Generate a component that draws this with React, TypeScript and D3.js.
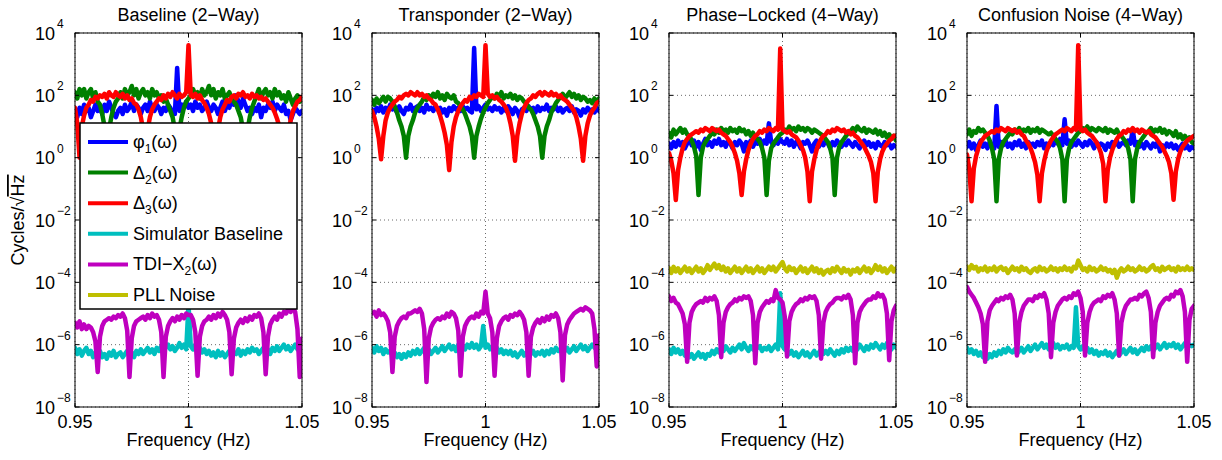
import React from 'react';
import * as d3 from 'd3';

// frequency grid, 1 mHz steps from 0.95 to 1.05 Hz
const freqs = d3.range(101).map(i => 0.95 + i / 1000);

const panelTitles = ['Baseline (2\u2212Way)', 'Transponder (2\u2212Way)', 'Phase\u2212Locked (4\u2212Way)', 'Confusion Noise (4\u2212Way)'];
const yTickExps = [4, 2, 0, -2, -4, -6, -8];
const xTicks = [0.95, 1, 1.05];
const xTickLabels = ['0.95', '1', '1.05'];

// all series are log10(Cycles/sqrt(Hz)) on the grid above
const baseBlue = [1.5,1.3,1.6,1.4,1.7,1.5,1.6,1.3,1.5,1.7,1.5,1.6,1.4,1.7,1.5,1.8,1.6,1.4,1.3,1.5,1.6,1.4,1.7,1.5,1.6,1.8,1.5,1.7,1.6,1.4,1.6,1.7,1.5,1.8,1.6,1.5,1.7,1.6,1.4,1.6,1.5,1.7,1.6,1.4,1.4,2.88,1.5,1.7,1.6,1.8,1.6,1.7,1.5,1.8,1.6,1.7,1.5,1.6,1.8,1.6,1.5,1.7,1.6,1.4,1.6,1.8,1.5,1.7,1.6,1.9,1.7,2.0,1.8,1.6,1.9,1.7,1.5,1.6,1.4,1.6,1.5,1.7,1.3,1.6,1.5,1.7,1.6,1.8,1.5,1.7,1.6,1.5,1.7,1.4,1.5,1.2,1.4,1.6,1.5,1.4,1.5];
const baseGreen = [2.1,1.9,2.2,2.0,2.2,1.9,2.1,2.2,1.9,2.1,1.8,1.7,1.4,1.0,0.0,0.9,1.3,1.6,1.8,1.9,2.1,1.9,2.2,2.0,2.1,2.3,2.0,2.2,1.9,2.1,2.2,2.0,2.1,1.9,2.2,2.0,2.1,1.9,2.0,1.8,1.9,1.7,1.5,1.3,0.9,0.0,0.9,1.3,1.6,1.8,1.9,2.0,2.2,2.0,2.1,1.9,2.2,2.0,2.1,2.3,2.0,2.2,1.9,2.1,2.0,2.2,1.9,2.0,2.1,1.9,1.8,1.7,1.5,1.3,0.9,0.0,0.9,1.3,1.6,1.8,2.0,2.2,1.9,2.1,2.2,2.0,2.1,1.9,2.2,2.0,2.1,1.9,2.0,1.8,2.1,1.9,1.7,1.9,2.0,1.8,1.9];
const baseRed = [1.6,1.1,0.0,1.0,1.35,1.6,1.7,1.85,1.8,1.95,1.9,2.0,1.95,2.05,1.9,2.1,2.0,1.95,2.1,2.0,1.95,2.05,1.9,2.0,1.85,1.9,1.75,1.7,1.55,1.3,0.9,-0.1,0.9,1.3,1.55,1.7,1.8,1.9,1.85,2.0,1.9,2.05,1.95,2.1,2.0,1.9,2.05,1.95,2.0,2.1,3.61,2.0,1.95,2.05,1.9,2.0,1.85,1.75,1.6,1.4,1.1,0.8,-0.1,0.9,1.3,1.55,1.7,1.85,1.8,1.95,2.0,1.9,2.05,2.0,2.1,1.95,2.0,1.9,2.05,1.95,2.0,1.9,1.95,1.85,1.9,1.8,1.7,1.6,1.45,1.25,1.0,0.9,0.4,-0.2,0.8,1.2,1.5,1.65,1.8,1.85,1.95];
const baseCyan = [-6.1,-6.3,-6.15,-6.35,-6.2,-6.1,-6.3,-6.2,-6.4,-6.25,-6.35,-6.2,-6.4,-6.3,-6.45,-6.25,-6.35,-6.2,-6.4,-6.3,-6.25,-6.4,-6.3,-6.2,-6.35,-6.25,-6.4,-6.2,-6.3,-6.15,-6.3,-6.2,-6.1,-6.25,-6.15,-6.3,-6.1,-6.2,-6.05,-6.2,-6.1,-6.0,-6.15,-6.05,-6.2,-6.1,-5.95,-6.1,-6.0,-6.15,-4.7,-6.05,-6.15,-6.0,-6.2,-6.1,-6.25,-6.15,-6.3,-6.2,-6.35,-6.25,-6.4,-6.2,-6.35,-6.25,-6.4,-6.3,-6.2,-6.35,-6.25,-6.3,-6.15,-6.35,-6.2,-6.3,-6.15,-6.25,-6.1,-6.2,-6.15,-6.3,-6.2,-6.1,-6.25,-6.15,-6.3,-6.1,-6.2,-6.05,-6.2,-6.1,-6.0,-6.15,-6.05,-6.2,-6.1,-6.0,-6.15,-6.05,-6.1];
const baseMagenta = [-5.3,-5.45,-5.25,-5.5,-5.35,-5.5,-5.4,-5.45,-5.6,-5.9,-6.88,-5.75,-5.4,-5.25,-5.2,-5.15,-5.2,-5.1,-5.15,-5.05,-5.1,-5.0,-5.15,-5.55,-7.04,-5.8,-5.4,-5.25,-5.2,-5.15,-5.1,-5.2,-5.05,-5.15,-5.0,-5.1,-5.05,-5.2,-5.6,-7.04,-5.75,-5.4,-5.25,-5.15,-5.25,-5.1,-5.2,-5.05,-5.15,-5.0,-5.05,-5.05,-5.2,-5.6,-7.0,-5.75,-5.4,-5.25,-5.2,-5.1,-5.2,-5.05,-5.15,-5.0,-5.1,-4.95,-5.05,-5.2,-5.6,-6.95,-5.8,-5.45,-5.3,-5.2,-5.3,-5.15,-5.25,-5.1,-5.2,-5.05,-5.1,-5.0,-5.15,-5.6,-6.95,-5.75,-5.35,-5.2,-5.1,-5.2,-5.0,-5.1,-4.95,-5.0,-4.85,-4.95,-4.8,-4.95,-5.5,-7.04,-5.8];

const transBlue = [1.55,1.4,1.6,1.5,1.65,1.45,1.6,1.5,1.7,1.55,1.6,1.45,1.65,1.5,1.4,1.6,1.55,1.7,1.5,1.6,1.65,1.5,1.6,1.45,1.7,1.55,1.6,1.5,1.65,1.55,1.6,1.45,1.55,1.35,1.6,1.5,1.65,1.55,1.6,1.5,1.65,1.55,1.6,1.5,1.45,3.52,1.55,1.65,1.5,1.6,1.7,1.55,1.6,1.5,1.65,1.55,1.6,1.45,1.6,1.5,1.65,1.55,1.4,1.6,1.5,1.3,1.55,1.6,1.5,1.65,1.55,1.6,1.45,1.65,1.5,1.6,1.55,1.7,1.5,1.6,1.55,1.65,1.5,1.6,1.45,1.55,1.6,1.5,1.65,1.45,1.55,1.5,1.35,1.55,1.45,1.6,1.5,1.55,1.45,1.6,1.5];
const transGreen = [1.85,1.7,1.9,1.75,1.85,1.95,1.8,1.95,1.9,1.8,1.65,1.45,1.2,1.0,0.7,0.0,0.7,1.0,1.2,1.45,1.6,1.7,1.8,1.95,1.85,2.0,1.9,2.05,1.95,2.1,1.9,2.0,1.85,2.05,1.95,1.9,2.0,1.8,1.75,1.65,1.55,1.4,1.2,1.0,0.7,0.0,0.7,1.0,1.25,1.45,1.6,1.75,1.85,1.95,1.9,2.05,1.95,2.1,1.9,2.0,1.95,2.05,1.9,2.0,1.85,1.95,1.9,1.8,1.75,1.6,1.55,1.4,1.2,1.0,0.7,0.0,0.7,1.0,1.2,1.45,1.6,1.75,1.85,1.95,2.05,1.9,2.0,2.1,1.95,2.05,1.9,2.0,1.85,1.95,1.9,1.8,1.85,1.75,1.9,1.8,1.9];
const transRed = [1.5,1.3,1.0,0.6,-0.05,0.7,1.2,1.45,1.6,1.7,1.8,1.85,1.95,1.9,2.0,2.05,2.0,2.1,2.05,2.0,2.1,2.0,2.05,1.95,2.0,1.9,1.85,1.75,1.7,1.55,1.35,1.1,0.8,0.4,-0.4,0.5,1.0,1.3,1.5,1.65,1.75,1.85,1.8,1.95,1.9,2.0,1.95,2.05,2.0,1.95,3.61,2.05,1.95,2.0,1.9,1.95,1.85,1.8,1.7,1.6,1.4,1.1,0.7,-0.1,0.7,1.1,1.4,1.6,1.75,1.85,1.9,2.0,1.95,2.05,2.1,2.0,2.1,2.05,2.0,2.1,2.0,2.05,1.95,2.0,1.9,1.85,1.8,1.7,1.6,1.5,1.3,1.0,0.6,-0.1,0.7,1.1,1.35,1.5,1.6,1.75,1.8];
const transCyan = [-6.1,-6.25,-6.05,-6.2,-6.1,-6.3,-6.15,-6.25,-6.2,-6.35,-6.25,-6.4,-6.3,-6.45,-6.3,-6.4,-6.25,-6.35,-6.2,-6.3,-6.15,-6.3,-6.2,-6.1,-6.25,-6.15,-6.3,-6.2,-6.1,-6.25,-6.15,-6.05,-6.2,-6.1,-6.0,-6.15,-6.05,-6.2,-6.0,-6.1,-6.05,-6.15,-6.0,-6.1,-5.95,-6.1,-6.0,-6.15,-6.05,-5.4,-6.1,-6.0,-6.15,-6.05,-6.2,-6.1,-6.25,-6.15,-6.3,-6.2,-6.3,-6.2,-6.35,-6.25,-6.4,-6.3,-6.2,-6.35,-6.25,-6.4,-6.3,-6.2,-6.35,-6.25,-6.3,-6.2,-6.35,-6.2,-6.3,-6.15,-6.25,-6.1,-6.2,-6.15,-6.3,-6.2,-6.1,-6.25,-6.15,-6.05,-6.2,-6.1,-6.0,-6.15,-6.05,-6.2,-6.1,-6.0,-6.1,-6.05,-6.15];
const transMagenta = [-5.0,-4.95,-5.1,-4.9,-5.05,-5.0,-5.1,-5.25,-5.6,-6.88,-5.75,-5.4,-5.25,-5.15,-5.1,-5.15,-5.0,-5.0,-4.95,-4.9,-4.95,-4.85,-5.0,-5.5,-7.2,-5.8,-5.45,-5.3,-5.2,-5.15,-5.2,-5.1,-5.15,-5.0,-5.1,-4.95,-5.0,-5.15,-5.55,-7.0,-5.75,-5.4,-5.25,-5.15,-5.1,-5.15,-5.0,-5.1,-4.95,-5.0,-4.3,-5.0,-5.15,-5.6,-7.0,-5.8,-5.4,-5.25,-5.15,-5.1,-5.2,-5.05,-5.1,-5.0,-5.05,-4.95,-5.05,-5.2,-5.6,-7.0,-5.75,-5.45,-5.3,-5.2,-5.3,-5.15,-5.25,-5.1,-5.2,-5.05,-5.1,-5.0,-5.15,-5.6,-7.15,-5.7,-5.35,-5.2,-5.1,-5.0,-4.95,-4.9,-4.85,-4.9,-4.8,-4.85,-4.9,-5.0,-5.5,-6.7,-5.7];

const phaseBlue = [0.45,0.3,0.5,0.35,0.55,0.4,0.5,0.3,0.45,0.6,0.4,0.55,0.35,0.5,0.25,0.45,0.6,0.4,0.5,0.35,0.55,0.45,0.6,0.4,0.5,0.35,0.55,0.45,0.3,0.5,0.4,0.55,0.45,0.2,0.5,0.4,0.55,0.35,0.5,0.45,0.6,0.4,0.55,0.45,1.1,0.5,0.4,0.55,0.45,0.6,0.5,0.45,0.6,0.4,0.55,0.35,0.5,0.45,0.3,0.5,0.45,0.55,0.4,0.2,0.45,0.55,0.35,0.5,0.4,0.55,0.45,0.3,0.5,0.4,0.55,0.45,0.35,0.5,0.4,0.55,0.45,0.35,0.5,0.4,0.3,0.45,0.55,0.4,0.5,0.35,0.45,0.3,0.5,0.4,0.35,0.5,0.4,0.45,0.3,0.4,0.35];
const phaseGreen = [0.8,0.65,0.9,0.75,0.85,0.95,0.8,0.9,0.75,0.7,0.55,0.35,0.05,-1.2,0.0,0.35,0.5,0.6,0.7,0.8,0.75,0.9,0.8,0.95,0.85,0.9,0.8,0.95,0.85,0.9,0.8,0.95,0.85,0.9,0.75,0.85,0.7,0.8,0.65,0.6,0.5,0.3,0.0,-1.2,-0.1,0.3,0.45,0.55,0.65,0.75,0.8,0.9,0.85,1.0,0.9,0.95,0.85,1.0,0.9,0.95,0.85,0.95,0.9,0.8,0.9,0.85,0.8,0.75,0.7,0.6,0.5,0.3,0.0,-1.2,0.0,0.35,0.5,0.6,0.7,0.8,0.85,0.95,0.85,1.0,0.9,0.85,0.95,0.8,0.9,0.85,0.8,0.9,0.75,0.85,0.7,0.8,0.65,0.75,0.6,0.7,0.55];
const phaseRed = [0.15,-0.1,-0.5,-1.36,-0.4,0.0,0.3,0.5,0.6,0.7,0.75,0.8,0.85,0.8,0.9,0.85,0.95,0.9,0.85,0.95,0.9,0.85,0.9,0.8,0.75,0.7,0.6,0.5,0.35,0.15,-0.1,-0.5,-1.2,-0.45,-0.05,0.25,0.45,0.6,0.7,0.75,0.85,0.8,0.9,0.85,0.95,0.9,0.85,0.95,0.9,3.5,0.9,0.85,0.8,0.85,0.75,0.7,0.65,0.55,0.4,0.25,0.0,-0.45,-1.4,-0.45,-0.05,0.25,0.45,0.6,0.7,0.75,0.85,0.8,0.9,0.85,0.95,0.9,0.85,0.9,0.8,0.85,0.75,0.8,0.7,0.65,0.55,0.45,0.35,0.2,0.05,-0.15,-0.5,-1.4,-0.45,-0.05,0.2,0.35,0.45,0.55,0.6,0.7,0.7];
const phaseYellow = [-3.55,-3.7,-3.5,-3.65,-3.55,-3.7,-3.6,-3.5,-3.65,-3.55,-3.7,-3.6,-3.5,-3.65,-3.55,-3.7,-3.6,-3.45,-3.6,-3.5,-3.4,-3.55,-3.45,-3.6,-3.5,-3.65,-3.55,-3.7,-3.6,-3.5,-3.65,-3.55,-3.7,-3.6,-3.5,-3.65,-3.55,-3.7,-3.6,-3.5,-3.65,-3.55,-3.7,-3.6,-3.5,-3.6,-3.5,-3.65,-3.55,-3.45,-3.35,-3.55,-3.65,-3.5,-3.6,-3.55,-3.7,-3.6,-3.5,-3.65,-3.55,-3.7,-3.6,-3.5,-3.65,-3.55,-3.7,-3.6,-3.75,-3.65,-3.6,-3.7,-3.55,-3.65,-3.5,-3.6,-3.7,-3.55,-3.65,-3.6,-3.75,-3.6,-3.65,-3.55,-3.7,-3.6,-3.5,-3.65,-3.55,-3.7,-3.6,-3.45,-3.6,-3.5,-3.65,-3.55,-3.7,-3.6,-3.5,-3.65,-3.55];
const phaseMagenta = [-4.45,-4.6,-4.5,-4.65,-4.7,-4.85,-5.0,-5.35,-6.55,-5.3,-4.95,-4.8,-4.7,-4.65,-4.6,-4.65,-4.5,-4.6,-4.5,-4.55,-4.45,-4.6,-5.05,-6.4,-5.3,-4.95,-4.8,-4.7,-4.65,-4.55,-4.6,-4.5,-4.55,-4.45,-4.5,-4.45,-4.6,-5.05,-6.6,-5.3,-4.95,-4.8,-4.7,-4.6,-4.65,-4.55,-4.6,-4.25,-4.5,-4.55,-4.65,-5.1,-6.38,-5.25,-4.95,-4.8,-4.7,-4.65,-4.55,-4.6,-4.5,-4.55,-4.45,-4.5,-4.45,-4.6,-5.05,-6.45,-5.3,-4.95,-4.8,-4.7,-4.65,-4.55,-4.5,-4.5,-4.55,-4.45,-4.5,-4.4,-4.55,-5.05,-6.6,-5.3,-4.95,-4.8,-4.7,-4.6,-4.55,-4.55,-4.45,-4.5,-4.35,-4.45,-4.4,-4.55,-5.0,-6.5,-5.25,-4.9,-4.75];
const phaseCyan = [-6.15,-6.3,-6.1,-6.25,-6.15,-6.3,-6.2,-6.35,-6.25,-6.4,-6.3,-6.45,-6.35,-6.25,-6.4,-6.3,-6.45,-6.3,-6.35,-6.2,-6.3,-6.15,-6.25,-6.1,-6.2,-6.05,-6.15,-6.25,-6.1,-6.2,-6.1,-6.0,-6.15,-5.95,-6.1,-6.2,-6.05,-6.15,-6.0,-6.1,-6.05,-6.2,-6.1,-6.15,-6.05,-6.2,-6.1,-6.0,-6.15,-4.35,-6.05,-6.15,-6.2,-6.3,-6.2,-6.35,-6.25,-6.4,-6.3,-6.2,-6.35,-6.25,-6.4,-6.3,-6.2,-6.35,-6.25,-6.15,-6.3,-6.2,-6.3,-6.15,-6.25,-6.35,-6.2,-6.3,-6.15,-6.25,-6.1,-6.2,-6.1,-6.2,-6.05,-6.15,-6.0,-6.1,-6.2,-6.05,-6.15,-6.0,-6.1,-5.95,-6.05,-6.15,-6.0,-6.1,-5.95,-6.05,-6.15,-6.0,-6.1];

const confBlue = [0.35,0.5,0.3,0.45,0.25,0.4,0.55,0.35,0.45,0.3,0.5,0.4,0.3,1.66,0.35,0.5,0.4,0.55,0.35,0.45,0.3,0.5,0.4,0.55,0.35,0.45,0.3,0.5,0.4,0.45,0.35,0.5,0.4,0.55,0.3,0.45,0.35,0.5,0.4,0.55,0.45,0.6,0.4,1.23,0.45,0.55,0.35,0.5,0.4,0.55,0.45,0.35,0.5,0.4,0.55,0.45,0.3,0.5,0.35,0.45,0.4,0.25,0.45,0.35,0.5,0.4,0.55,0.35,0.45,0.5,0.4,0.55,0.45,0.9,0.4,0.5,0.35,0.45,0.3,0.5,0.4,0.3,0.45,0.35,0.5,0.2,0.4,0.3,0.45,0.35,0.45,0.3,0.4,0.25,0.35,0.45,0.3,0.4,0.25,0.35,0.3];
const confGreen = [0.75,0.9,0.7,0.85,0.8,0.95,0.85,0.9,0.8,0.7,0.55,0.3,-0.05,-1.4,-0.05,0.3,0.5,0.6,0.7,0.8,0.75,0.9,0.85,0.95,0.8,0.9,0.85,0.95,0.8,0.9,0.85,0.95,0.8,0.9,0.85,0.8,0.75,0.8,0.7,0.6,0.5,0.3,-0.05,-1.4,-0.05,0.3,0.5,0.6,0.7,0.8,0.85,0.95,0.9,1.0,0.85,0.95,0.9,0.85,0.95,0.9,0.85,0.95,0.8,0.9,0.85,0.8,0.9,0.75,0.7,0.6,0.5,0.3,-0.05,-1.4,-0.05,0.3,0.5,0.6,0.7,0.8,0.85,0.95,0.8,0.9,0.85,0.95,0.8,0.9,0.75,0.85,0.8,0.7,0.85,0.65,0.75,0.6,0.7,0.55,0.65,0.5,0.45];
const confRed = [0.1,-0.35,-1.4,-0.35,0.05,0.3,0.5,0.6,0.7,0.75,0.8,0.85,0.8,0.9,0.85,0.95,0.9,0.85,0.95,0.9,0.85,0.9,0.8,0.85,0.75,0.7,0.55,0.45,0.3,0.1,-0.15,-0.55,-1.4,-0.5,-0.1,0.2,0.4,0.55,0.65,0.75,0.8,0.85,0.9,0.85,0.95,0.9,0.85,0.95,0.9,3.61,0.9,0.85,0.9,0.8,0.75,0.7,0.6,0.5,0.35,0.15,-0.2,-1.4,-0.4,0.0,0.25,0.45,0.6,0.7,0.75,0.85,0.8,0.9,0.85,0.95,0.85,0.9,0.8,0.9,0.85,0.8,0.85,0.75,0.7,0.65,0.55,0.45,0.35,0.2,0.05,-0.15,-0.5,-1.35,-0.45,-0.05,0.2,0.35,0.45,0.55,0.6,0.65,0.7];
const confYellow = [-3.5,-3.6,-3.45,-3.55,-3.5,-3.65,-3.55,-3.6,-3.5,-3.65,-3.55,-3.6,-3.5,-3.65,-3.55,-3.5,-3.6,-3.55,-3.7,-3.6,-3.5,-3.6,-3.55,-3.65,-3.5,-3.6,-3.55,-3.65,-3.7,-3.6,-3.55,-3.65,-3.5,-3.6,-3.55,-3.65,-3.6,-3.5,-3.6,-3.55,-3.65,-3.55,-3.6,-3.5,-3.6,-3.55,-3.65,-3.5,-3.55,-3.3,-3.45,-3.6,-3.55,-3.65,-3.5,-3.6,-3.55,-3.65,-3.6,-3.5,-3.6,-3.55,-3.65,-3.6,-3.7,-3.6,-3.85,-3.65,-3.55,-3.65,-3.6,-3.5,-3.6,-3.55,-3.65,-3.6,-3.5,-3.6,-3.55,-3.65,-3.6,-3.5,-3.45,-3.6,-3.55,-3.65,-3.5,-3.6,-3.55,-3.5,-3.6,-3.55,-3.65,-3.5,-3.6,-3.55,-3.6,-3.5,-3.6,-3.55,-3.6];
const confMagenta = [-4.15,-4.3,-4.4,-4.5,-4.65,-4.8,-5.0,-5.35,-6.55,-5.25,-4.9,-4.75,-4.65,-4.55,-4.6,-4.5,-4.55,-4.45,-4.5,-4.4,-4.55,-5.0,-6.35,-5.3,-4.95,-4.75,-4.65,-4.55,-4.55,-4.6,-4.45,-4.5,-4.4,-4.45,-4.35,-4.55,-5.0,-6.4,-5.3,-4.95,-4.75,-4.65,-4.55,-4.5,-4.55,-4.45,-4.5,-4.35,-4.4,-4.3,-4.5,-4.95,-6.35,-5.3,-4.95,-4.75,-4.65,-4.6,-4.55,-4.6,-4.45,-4.5,-4.4,-4.45,-4.35,-4.55,-5.0,-6.35,-5.3,-4.95,-4.75,-4.65,-4.55,-4.55,-4.5,-4.55,-4.4,-4.45,-4.35,-4.3,-4.5,-4.95,-6.4,-5.3,-4.95,-4.75,-4.65,-4.55,-4.5,-4.55,-4.4,-4.45,-4.3,-4.35,-4.25,-4.45,-4.95,-6.55,-5.2,-4.85,-4.75];
const confCyan = [-6.1,-6.25,-6.15,-6.3,-6.2,-6.35,-6.25,-6.4,-6.3,-6.45,-6.3,-6.4,-6.25,-6.35,-6.2,-6.3,-6.15,-6.25,-6.1,-6.2,-6.25,-6.15,-6.3,-6.2,-6.1,-6.25,-6.15,-6.05,-6.2,-6.1,-6.0,-6.15,-6.05,-5.95,-6.1,-6.0,-6.15,-6.05,-5.95,-6.1,-6.0,-6.15,-6.05,-6.1,-6.0,-6.15,-6.05,-6.1,-4.8,-6.05,-6.15,-6.05,-6.2,-6.1,-6.25,-6.15,-6.3,-6.2,-6.35,-6.25,-6.3,-6.2,-6.35,-6.25,-6.4,-6.3,-6.2,-6.35,-6.25,-6.15,-6.3,-6.2,-6.1,-6.25,-6.15,-6.3,-6.2,-6.1,-6.2,-6.05,-6.15,-6.05,-6.2,-6.1,-6.0,-6.15,-6.05,-5.95,-6.1,-6.0,-6.05,-5.95,-6.1,-6.0,-6.15,-6.05,-5.95,-6.1,-6.0,-6.05,-6.0];

const BLUE = '#0000ff', GREEN = '#008000', RED = '#ff0000';
const CYAN = '#00bfbf', MAGENTA = '#bf00bf', YELLOW = '#bfbf00';

const panels = [
  [[baseBlue, BLUE], [baseGreen, GREEN], [baseRed, RED], [baseCyan, CYAN], [baseMagenta, MAGENTA]],
  [[transBlue, BLUE], [transGreen, GREEN], [transRed, RED], [transCyan, CYAN], [transMagenta, MAGENTA]],
  [[phaseBlue, BLUE], [phaseGreen, GREEN], [phaseRed, RED], [phaseCyan, CYAN], [phaseMagenta, MAGENTA], [phaseYellow, YELLOW]],
  [[confBlue, BLUE], [confGreen, GREEN], [confRed, RED], [confCyan, CYAN], [confMagenta, MAGENTA], [confYellow, YELLOW]],
];

const legendColors = [BLUE, GREEN, RED, CYAN, MAGENTA, YELLOW];

const W = 1222, H = 460;
const panelLeft = [75, 372, 669, 967];
const plotW = 227;
const top = 33, bottom = 407;
const font = '"Liberation Sans", Arial, Helvetica, sans-serif';
const lw = 4.5;

function LegendLabel({ k }: { k: number }) {
  const sub = (s: string) => <tspan dy={5} fontSize={12}>{s}</tspan>;
  const back = (s: string) => <tspan dy={-5}>{s}</tspan>;
  if (k === 0) return <>{'\u03c6'}{sub('1')}{back('(\u03c9)')}</>;
  if (k === 1) return <>{'\u0394'}{sub('2')}{back('(\u03c9)')}</>;
  if (k === 2) return <>{'\u0394'}{sub('3')}{back('(\u03c9)')}</>;
  if (k === 3) return <>Simulator Baseline</>;
  if (k === 4) return <>{'TDI\u2212X'}{sub('2')}{back('(\u03c9)')}</>;
  return <>PLL Noise</>;
}

function Panel({ idx }: { idx: number }) {
  const x0 = panelLeft[idx];
  const x = d3.scaleLinear().domain([0.95, 1.05]).range([x0, x0 + plotW]);
  const y = d3.scaleLog().domain([1e-8, 1e4]).range([bottom, top]);
  const line = d3.line<number>()
    .x((_, i) => x(freqs[i]))
    .y(v => y(Math.pow(10, v)));
  const clipId = `clip${idx}`;
  return (
    <g>
      <defs>
        <clipPath id={clipId}>
          <rect x={x0} y={top} width={plotW} height={bottom - top} />
        </clipPath>
      </defs>
      {/* grid */}
      {yTickExps.map(e => (
        <line key={'gy' + e} x1={x0} x2={x0 + plotW} y1={y(Math.pow(10, e))} y2={y(Math.pow(10, e))}
          stroke="#444" strokeWidth={0.8} strokeDasharray="1,3" />
      ))}
      {xTicks.map(t => (
        <line key={'gx' + t} x1={x(t)} x2={x(t)} y1={top} y2={bottom}
          stroke="#444" strokeWidth={0.8} strokeDasharray="1,3" />
      ))}
      <g clipPath={`url(#${clipId})`}>
        {panels[idx].map(([vals, color], k) => (
          <path key={k} d={line(vals as number[]) || ''} fill="none" stroke={color as string}
            strokeWidth={lw} strokeLinejoin="round" strokeLinecap="round" />
        ))}
      </g>
      {/* box and ticks */}
      <rect x={x0} y={top} width={plotW} height={bottom - top} fill="none" stroke="#000" strokeWidth={1} />
      {yTickExps.map(e => {
        const yy = y(Math.pow(10, e));
        return (
          <g key={'ty' + e}>
            <line x1={x0} x2={x0 + 4} y1={yy} y2={yy} stroke="#000" />
            <line x1={x0 + plotW - 4} x2={x0 + plotW} y1={yy} y2={yy} stroke="#000" />
            <text x={x0 - 20} y={yy + 6.5} textAnchor="end" fontSize={18} fontFamily={font}>10</text>
            <text x={x0 - 18} y={yy - 5} fontSize={12} fontFamily={font}>{e < 0 ? '\u2212' + (-e) : String(e)}</text>
          </g>
        );
      })}
      {xTicks.map((t, i) => (
        <g key={'tx' + t}>
          <line x1={x(t)} x2={x(t)} y1={bottom} y2={bottom - 4} stroke="#000" />
          <line x1={x(t)} x2={x(t)} y1={top} y2={top + 4} stroke="#000" />
          <text x={x(t)} y={428} textAnchor="middle" fontSize={18} fontFamily={font}>{xTickLabels[i]}</text>
        </g>
      ))}
      <text x={x0 + plotW / 2} y={446} textAnchor="middle" fontSize={18} fontFamily={font}>Frequency (Hz)</text>
      <text x={x0 + plotW / 2} y={21} textAnchor="middle" fontSize={18} fontFamily={font}>{panelTitles[idx]}</text>
    </g>
  );
}

export default function App() {
  const legendX = 80, legendY = 123, legendW = 217, legendH = 186;
  return (
    <svg width={W} height={H} style={{ position: 'absolute', left: 0, top: 0, background: '#fff' }}>
      <rect x={0} y={0} width={W} height={H} fill="#fff" />
      {panels.map((_, i) => <Panel key={i} idx={i} />)}
      <text transform="translate(24,220) rotate(-90)" textAnchor="middle" fontSize={18} fontFamily={font}>
        Cycles/{'\u221a'}<tspan textDecoration="overline">Hz</tspan>
      </text>
      <g>
        <rect x={legendX} y={legendY} width={legendW} height={legendH} fill="#fff" stroke="#000" strokeWidth={1.5} />
        {legendColors.map((c, k) => {
          const yy = 142 + k * 30.6;
          return (
            <g key={k}>
              <line x1={88} x2={128} y1={yy} y2={yy} stroke={c} strokeWidth={4} />
              <text x={133} y={yy + 6} fontSize={18} fontFamily={font}><LegendLabel k={k} /></text>
            </g>
          );
        })}
      </g>
    </svg>
  );
}
